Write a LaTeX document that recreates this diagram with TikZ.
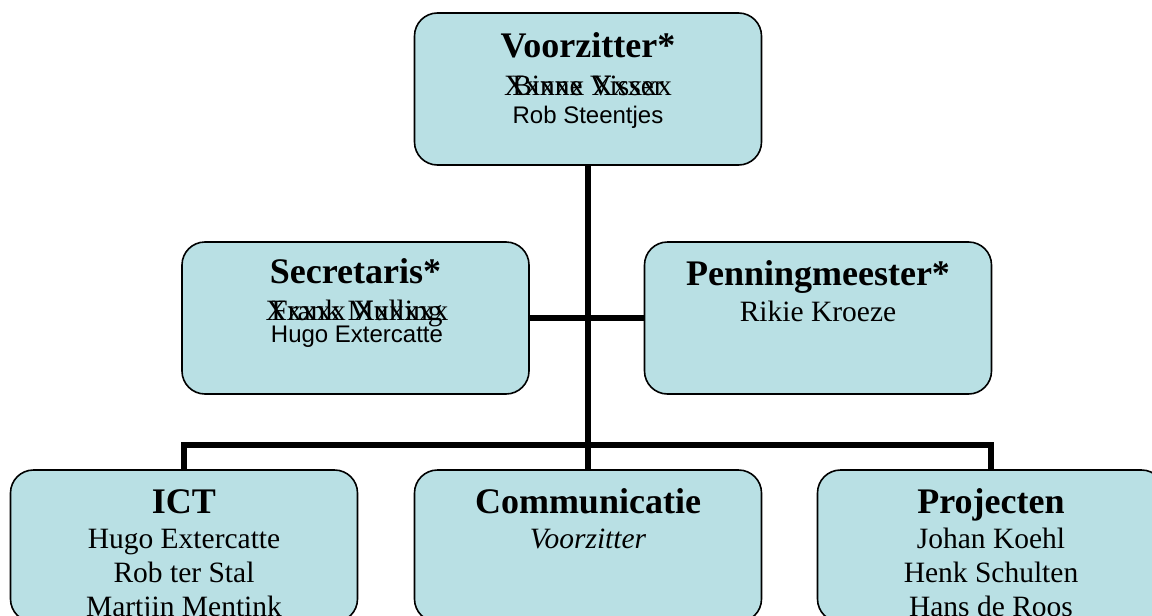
\documentclass[tikz,border=0pt]{standalone}
\usepackage{fontspec}
\setmainfont{Liberation Serif}
\newfontfamily\arialfont{Liberation Sans}
\definecolor{boxfill}{RGB}{185,224,228}
\tikzset{
  orgbox/.style={draw=black, line width=1.6pt, fill=boxfill, rounded corners=23pt,
    minimum width=347pt, minimum height=152pt, inner sep=0pt},
  conn/.style={draw=black, line width=6pt, line join=miter},
  ttl/.style={anchor=base, inner sep=0pt, font=\fontsize{36}{36}\selectfont\bfseries},
  nm/.style={anchor=base, inner sep=0pt, font=\fontsize{29.5}{29.5}\selectfont},
  snm/.style={anchor=base, inner sep=0pt, font=\fontsize{24}{24}\selectfont\arialfont},
}
\begin{document}
\begin{tikzpicture}[x=1pt,y=-1pt]
\useasboundingbox (0,0) rectangle (1152,616);
% boxes
\node[orgbox] (vz) at (588,89) {};
\node[orgbox] (sec) at (355.5,318) {};
\node[orgbox] (pen) at (818,318) {};
\node[orgbox] (ict) at (184,546) {};
\node[orgbox] (com) at (588,546) {};
\node[orgbox] (pro) at (991,546) {};
% connectors
\coordinate (bar) at (588,445);
\draw[conn] (vz.south) -- (com.north);
\draw[conn] (sec.east) -- (pen.west);
\draw[conn] (ict.north) -- (ict.north |- bar) -- (pro.north |- bar) -- (pro.north);
% texts
\node[ttl] (vzt) at (588,57) {Voorzitter*};
\node[nm] (vzx1) at (588,95) {Binne Visser};
\node[nm] (vzx2) at (588,95) {Xxxxx Xxxxx};
\node[snm] (vzn) at (588,123) {Rob Steentjes};
\node[ttl] (sect) at (355.5,283) {Secretaris*};
\node[nm] (secx1) at (357,320) {Frank Mulling};
\node[nm] (secx2) at (357,320) {Xxxxx Xxxxxx};
\node[snm] (secn) at (357,342) {Hugo Extercatte};
\node[ttl] (pent) at (818,285) {Penningmeester*};
\node[nm] (penn) at (818,321) {Rikie Kroeze};
\node[ttl] (ictt) at (184,513) {ICT};
\node[nm] (ictn1) at (184,548) {Hugo Extercatte};
\node[nm] (ictn2) at (184,582) {Rob ter Stal};
\node[nm] (ictn3) at (184,616) {Martjin Mentink};
\node[ttl] (comt) at (588,513) {Communicatie};
\node[nm, font=\fontsize{29.5}{29.5}\selectfont\itshape] (comn) at (588,548) {Voorzitter};
\node[ttl] (prot) at (991,513) {Projecten};
\node[nm] (pron1) at (991,548) {Johan Koehl};
\node[nm] (pron2) at (991,582) {Henk Schulten};
\node[nm] (pron3) at (991,616) {Hans de Roos};
\end{tikzpicture}
\end{document}
